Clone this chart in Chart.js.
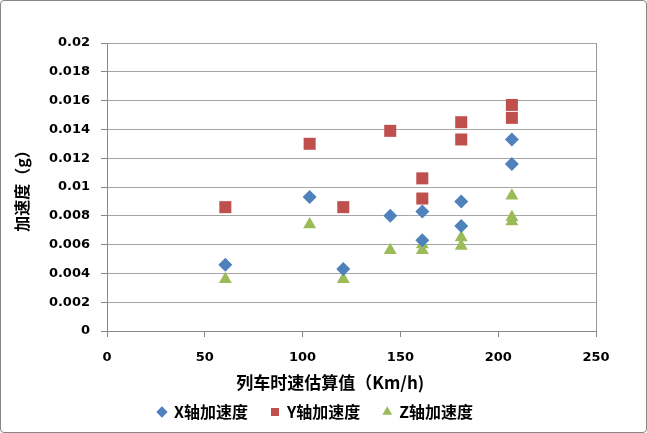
<!DOCTYPE html>
<html>
<head>
<meta charset="utf-8">
<script src="https://cdn.jsdelivr.net/npm/chart.js@4"></script>
<style>
  html, body { margin: 0; padding: 0; background: #fff; }
  #wrap { position: relative; width: 647px; height: 433px; }
  #frame { position: absolute; left: 0; top: 0; width: 647px; height: 433px; box-sizing: border-box;
           border: 1px solid #868686; border-radius: 4px; pointer-events: none; }
</style>
</head>
<body>
<div id="wrap">
  <canvas id="chart" width="647" height="433"></canvas>
  <div id="frame"></div>
</div>
<script>
// train speed estimate (km/h) and acceleration (g) per axis
const xSpeed = [60.5, 103.6, 120.8, 144.8, 161.2, 161.2, 181.1, 181.1, 207, 207];
const xAcc   = [0.0046, 0.0093, 0.0043, 0.0080, 0.0083, 0.0063, 0.0090, 0.0073, 0.0133, 0.0116];
const ySpeed = [60.5, 103.6, 120.8, 144.8, 161.2, 161.2, 181.1, 181.1, 207, 207];
const yAcc   = [0.0086, 0.0130, 0.0086, 0.0139, 0.0106, 0.0092, 0.0145, 0.0133, 0.0157, 0.0148];
const zSpeed = [60.5, 103.6, 120.8, 144.8, 161.2, 161.2, 181.1, 181.1, 207, 207, 207];
const zAcc   = [0.0036, 0.0074, 0.0036, 0.0056, 0.0060, 0.0056, 0.0065, 0.0059, 0.0094, 0.0079, 0.0076];

const seriesNames = ['X轴加速度', 'Y轴加速度', 'Z轴加速度'];
const xTicks = [0, 50, 100, 150, 200, 250];
const yTicks = [0, 0.002, 0.004, 0.006, 0.008, 0.01, 0.012, 0.014, 0.016, 0.018, 0.02];

function pts(xs, ys) {
  return xs.map((x, i) => ({ x: x, y: ys[i] }));
}

const tickFont = { family: '"DejaVu Sans"', size: 13, weight: 'bold' };
const cjkFont = { family: '"Noto Sans CJK SC", "DejaVu Sans"', size: 16, weight: 'bold' };
const xTitleFont = { family: '"Noto Sans CJK SC", "DejaVu Sans"', size: 17, weight: 'bold' };

new Chart(document.getElementById('chart').getContext('2d'), {
  type: 'scatter',
  data: {
    datasets: [
      { label: seriesNames[0], data: pts(xSpeed, xAcc), pointStyle: 'rectRot', pointRadius: 7,
        backgroundColor: '#4F81BD', borderColor: '#4F81BD', borderWidth: 0 },
      { label: seriesNames[1], data: pts(ySpeed, yAcc), pointStyle: 'rect', pointRadius: 8.5,
        backgroundColor: '#C0504D', borderColor: '#C0504D', borderWidth: 0 },
      { label: seriesNames[2], data: pts(zSpeed, zAcc), pointStyle: 'triangle', pointRadius: 7.5,
        backgroundColor: '#9BBB59', borderColor: '#9BBB59', borderWidth: 0 }
    ]
  },
  options: {
    responsive: false,
    animation: false,
    layout: { padding: { left: 0, right: 0, top: 43, bottom: 3 } },
    plugins: {
      tooltip: { enabled: false },
      legend: {
        position: 'bottom',
        labels: {
          usePointStyle: true, boxWidth: 8, boxHeight: 8, padding: 7,
          font: cjkFont, color: '#000',
          // a trailing ideographic space widens the gap between entries
          generateLabels: chart => Chart.defaults.plugins.legend.labels.generateLabels(chart)
            .map(l => Object.assign(l, { text: l.text + '\u3000' }))
        }
      }
    },
    scales: {
      x: {
        type: 'linear', min: 0, max: 250,
        afterBuildTicks: s => { s.ticks = xTicks.map(v => ({ value: v })); },
        afterFit: s => { s.height = 66; },
        border: { color: '#888', width: 1 },
        grid: {
          drawOnChartArea: true, tickLength: 6, tickColor: '#888',
          color: c => (c.tick && c.tick.value === 250) ? '#999' : 'rgba(0,0,0,0)'
        },
        ticks: { font: tickFont, color: '#000', padding: 13, maxRotation: 0 },
        title: { display: true, text: '列车时速估算值（Km/h)\u3000\u3000\u2002', font: xTitleFont, color: '#000', padding: { top: 2, bottom: 4 } }
      },
      y: {
        type: 'linear', min: 0, max: 0.02,
        afterBuildTicks: s => { s.ticks = yTicks.map(v => ({ value: v })); },
        afterFit: s => { s.width = 107; },
        border: { color: '#888', width: 1 },
        grid: { color: '#a6a6a6', tickLength: 6, tickColor: '#888' },
        ticks: { font: tickFont, color: '#000', padding: 11, callback: v => String(+v.toFixed(3)) },
        title: { display: true, text: '加速度（g）', font: cjkFont, color: '#000', padding: { top: 12 } }
      },
      // empty right-hand gutter so the plot ends at the same place as the reference
      gutter: {
        type: 'linear', position: 'right', min: 0, max: 1,
        afterFit: s => { s.width = 51; },
        grid: { display: false }, border: { display: false }, ticks: { display: false }
      }
    }
  }
});
</script>
</body>
</html>
